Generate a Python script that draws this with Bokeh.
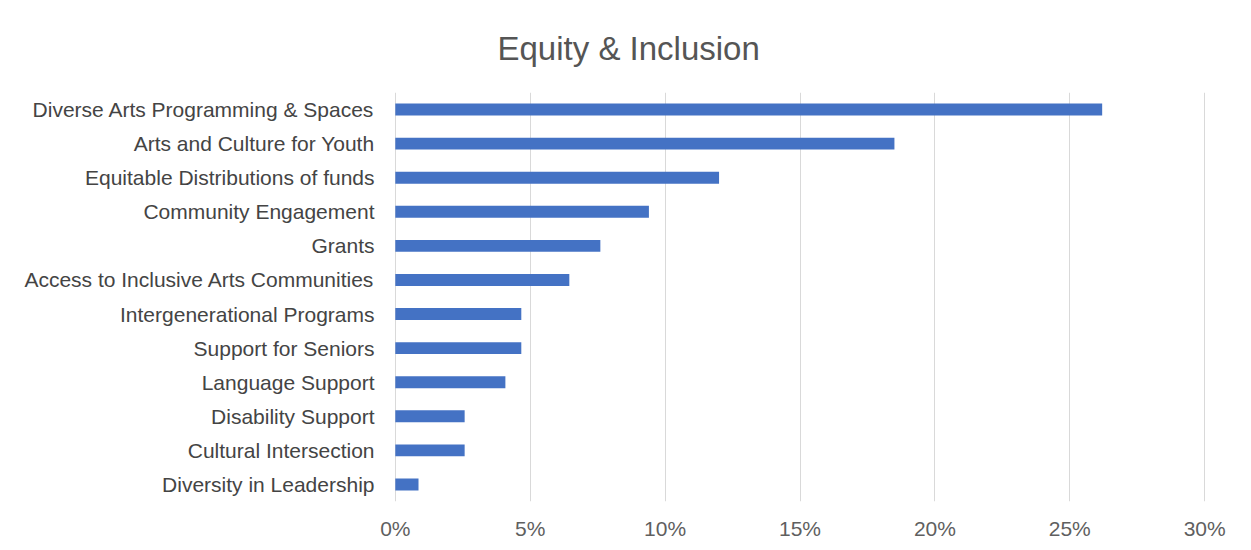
from bokeh.plotting import figure
from bokeh.models import FactorRange, Range1d, NumeralTickFormatter, FixedTicker, Title
from bokeh.embed import file_html
from bokeh.resources import INLINE

categories = [
    "Diverse Arts Programming & Spaces",
    "Arts and Culture for Youth",
    "Equitable Distributions of funds",
    "Community Engagement",
    "Grants",
    "Access to Inclusive Arts Communities",
    "Intergenerational Programs",
    "Support for Seniors",
    "Language Support",
    "Disability Support",
    "Cultural Intersection",
    "Diversity in Leadership",
]
values = [0.262, 0.185, 0.120, 0.094, 0.076, 0.0645, 0.0467, 0.0467, 0.0408, 0.0257, 0.0257, 0.0086]
x_ticks = [0, 0.05, 0.10, 0.15, 0.20, 0.25, 0.30]
title_text = "Equity & Inclusion"

FONT = "Liberation Sans"

p = figure(
    width=1243, height=542,
    y_range=FactorRange(factors=list(reversed(categories)), range_padding=0),
    x_range=Range1d(-0.0003, 0.3003),
    output_backend="svg", toolbar_location=None,
    min_border_left=394, min_border_right=38, min_border_top=92, min_border_bottom=39,
)

p.hbar(y=categories, right=values, left=0, height=0.35, color="#4472C4", line_color=None)

p.outline_line_color = None
p.background_fill_color = "white"
p.border_fill_color = "white"

p.ygrid.grid_line_color = None
p.xgrid.grid_line_color = "#d9d9d9"
p.xgrid.grid_line_width = 1

p.xaxis.ticker = FixedTicker(ticks=x_ticks)
p.xaxis.formatter = NumeralTickFormatter(format="0%")
p.xaxis.axis_line_color = None
p.xaxis.major_tick_line_color = None
p.xaxis.minor_tick_line_color = None
p.xaxis.major_label_text_font = FONT
p.xaxis.major_label_text_font_size = "21px"
p.xaxis.major_label_text_color = "#5f5f5f"
p.xaxis.major_label_standoff = 9

p.yaxis.axis_line_color = None
p.yaxis.major_tick_line_color = None
p.yaxis.minor_tick_line_color = None
p.yaxis.major_label_text_font = FONT
p.yaxis.major_label_text_font_size = "21px"
p.yaxis.major_label_text_color = "#444444"
p.yaxis.major_label_standoff = 14

title = Title(
    text=title_text, text_font=FONT, text_font_size="33px",
    text_color="#555555", text_font_style="normal", align="left", offset=103,
    standoff=51,
)
p.add_layout(title, "above")

open("out.html", "w").write(file_html(p, INLINE))
